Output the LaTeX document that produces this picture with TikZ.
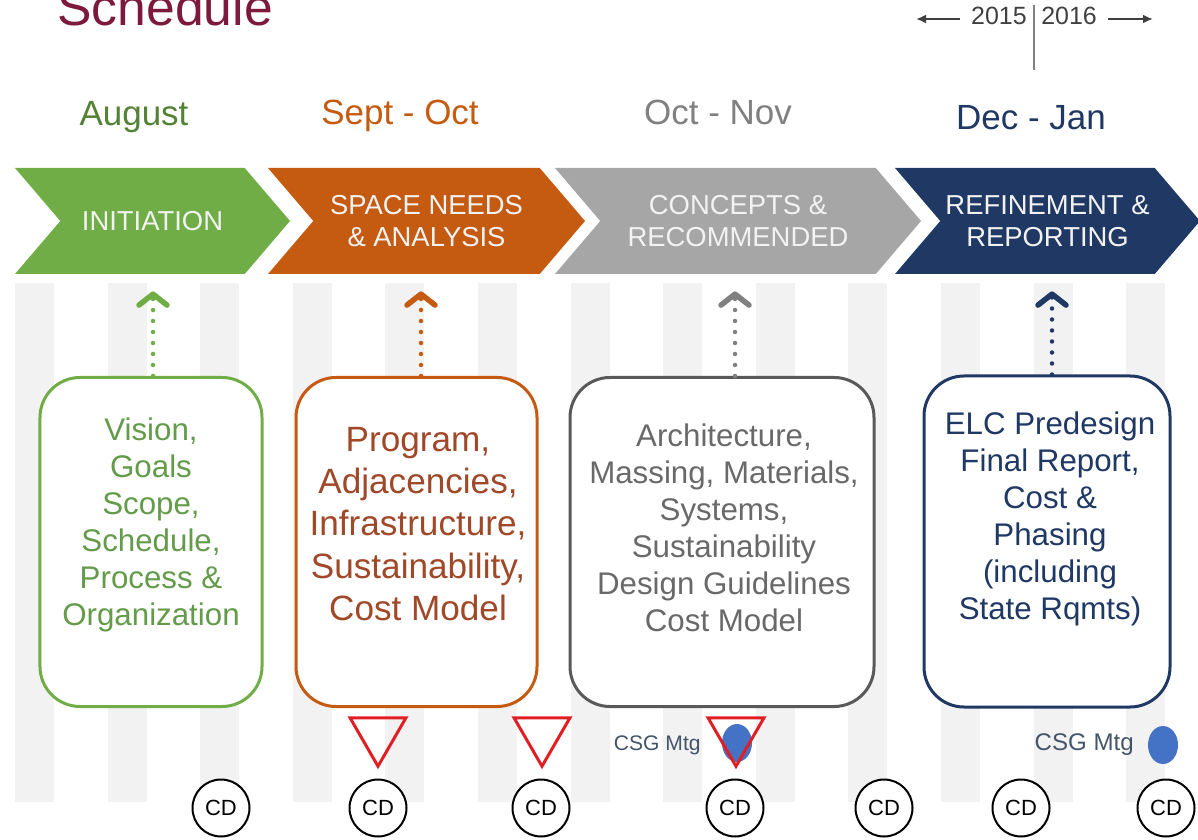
\documentclass[tikz,border=0pt]{standalone}
\usepackage{fontspec}
\setmainfont{Liberation Sans}
\usepackage{tikz}
\usetikzlibrary{arrows.meta, positioning, shapes.geometric, shapes.symbols}

\definecolor{titlered}{RGB}{125,25,60}
\definecolor{stripegray}{RGB}{242,242,242}
\definecolor{initgreen}{RGB}{112,173,71}
\definecolor{initdark}{RGB}{84,130,53}
\definecolor{inittext}{RGB}{100,155,75}
\definecolor{spaceorange}{RGB}{197,90,17}
\definecolor{spacetext}{RGB}{160,72,40}
\definecolor{conceptgray}{RGB}{166,166,166}
\definecolor{conceptdark}{RGB}{128,128,128}
\definecolor{conceptline}{RGB}{89,89,89}
\definecolor{concepttext}{RGB}{105,105,105}
\definecolor{refinenavy}{RGB}{31,56,100}
\definecolor{trired}{RGB}{225,30,35}
\definecolor{dotblue}{RGB}{68,114,196}
\definecolor{csgtext}{RGB}{68,84,106}
\definecolor{yeartext}{RGB}{64,64,64}

\begin{document}
\begin{tikzpicture}[x=0.2mm, y=-0.2mm]
    % Define styles
    \tikzstyle{stripe} = [fill=stripegray]
    \tikzstyle{month} = [anchor=base, inner sep=0pt, font=\fontsize{19.9}{24}\selectfont]
    \tikzstyle{chevron} = [signal, signal from=west, signal to=east, signal pointer angle=99, inner sep=0pt, minimum height=21.2mm, text=white!95!black, align=center, font=\fontsize{15.6}{18.2}\selectfont]
    \tikzstyle{phasebox} = [rectangle, rounded corners=8mm, line width=0.6mm, fill=white, minimum height=65.8mm]
    \tikzstyle{boxtext} = [align=center, inner sep=0pt, font=\fontsize{17.8}{21}\selectfont]
    \tikzstyle{uparrow} = [line width=0.9mm, line cap=round, dash pattern=on 0pt off 2.2mm, -{Straight Barb[width=5.6mm, length=2.2mm, line width=1.1mm, round]}, shorten >=3.4mm]
    \tikzstyle{review} = [regular polygon, regular polygon sides=3, shape border rotate=180, draw=trired, line width=0.6mm, minimum size=12.9mm, inner sep=0pt]
    \tikzstyle{csgdot} = [ellipse, fill=dotblue, minimum width=6mm, minimum height=7.6mm, inner sep=0pt]
    \tikzstyle{csglabel} = [anchor=east, inner sep=0pt, text=csgtext, font=\fontsize{13.7}{16}\selectfont]
    \tikzstyle{cd} = [circle, draw, line width=0.4mm, fill=white, minimum size=11.4mm, inner sep=0pt, font=\fontsize{12.5}{15}\selectfont]
    \tikzstyle{year} = [inner ysep=0pt, inner xsep=2.2mm, text=yeartext, font=\fontsize{14.2}{17}\selectfont]
    \tikzstyle{yeararrow} = [draw=yeartext, line width=0.4mm, -{Latex[length=2mm, width=1.8mm]}]

    \useasboundingbox (0,0) rectangle (1198,840);

    % Background columns
    \fill[stripe] (15,283) rectangle ++(39,519);
    \fill[stripe] (108,283) rectangle ++(39,519);
    \fill[stripe] (200,283) rectangle ++(39,519);
    \fill[stripe] (293,283) rectangle ++(39,519);
    \fill[stripe] (385,283) rectangle ++(39,519);
    \fill[stripe] (478,283) rectangle ++(39,519);
    \fill[stripe] (571,283) rectangle ++(39,519);
    \fill[stripe] (663,283) rectangle ++(39,519);
    \fill[stripe] (756,283) rectangle ++(39,519);
    \fill[stripe] (848,283) rectangle ++(39,519);
    \fill[stripe] (941,283) rectangle ++(39,519);
    \fill[stripe] (1034,283) rectangle ++(39,519);
    \fill[stripe] (1126,283) rectangle ++(39,519);

    % Title
    \node[anchor=base west, inner sep=0pt, text=titlered, font=\fontsize{29.4}{35}\selectfont] (title) at (57,26) {Schedule};

    % Year change marker
    \node[year, anchor=base east] (y2015) at (1038,25) {2015};
    \node[year, anchor=base west] (y2016) at (1030,25) {2016};
    \coordinate (pastend) at (916,19);
    \coordinate (futureend) at (1153,19);
    \coordinate (divtop) at (1034,5);
    \coordinate (divbottom) at (1034,70);
    \draw[yeararrow] (y2015.west |- pastend) -- (pastend);
    \draw[yeararrow] (y2016.east |- futureend) -- (futureend);
    \draw[conceptdark, line width=0.4mm] (divtop) -- (divbottom);

    % Month labels
    \node[month, text=initdark] (aug) at (134,126) {August};
    \node[month, text=spaceorange] (sepoct) at (400,125) {Sept - Oct};
    \node[month, text=conceptdark] (octnov) at (718,125) {Oct - Nov};
    \node[month, text=refinenavy] (decjan) at (1031,130) {Dec - Jan};

    % Phase chevrons
    \node[chevron, fill=initgreen, minimum width=55mm] (initchev) at (152.5,221) {INITIATION};
    \node[chevron, fill=spaceorange, minimum width=63.4mm] (spacechev) at (426.5,221) {SPACE NEEDS\\\& ANALYSIS};
    \node[chevron, fill=conceptgray, minimum width=73.2mm] (conceptchev) at (738,221) {CONCEPTS \&\\RECOMMENDED};
    \node[chevron, fill=refinenavy, minimum width=61mm] (refinechev) at (1047.5,221) {REFINEMENT \&\\REPORTING};

    % Deliverable boxes
    \node[phasebox, draw=initgreen, minimum width=44.4mm] (initbox) at (151,542) {};
    \node[boxtext, text=inittext] (initlist) at (151,525) {Vision,\\Goals\\Scope,\\Schedule,\\Process \&\\Organization};

    \node[phasebox, draw=spaceorange, minimum width=48.2mm] (spacebox) at (416.5,542) {};
    \node[boxtext, text=spacetext, font=\fontsize{20}{24}\selectfont] (spacelist) at (418,524) {Program,\\Adjacencies,\\Infrastructure,\\Sustainability,\\Cost Model};

    \node[phasebox, draw=conceptline, minimum width=60.8mm] (conceptbox) at (722,542) {};
    \node[boxtext, text=concepttext] (conceptlist) at (724,528) {Architecture,\\Massing, Materials,\\Systems,\\Sustainability\\Design Guidelines\\Cost Model};

    \node[phasebox, draw=refinenavy, minimum width=49.2mm, minimum height=66.2mm] (refinebox) at (1047,541.5) {};
    \node[boxtext, text=refinenavy] (refinelist) at (1050,519) {ELC Predesign\\Final Report,\\Cost \&\\Phasing\\(including\\State Rqmts)};

    % Dotted arrows up to the phases
    \draw[uparrow, initgreen] ([xshift=0.4mm]initbox.north) -- ([xshift=0.4mm]initbox.north |- initchev.south);
    \draw[uparrow, spaceorange] ([xshift=0.9mm]spacebox.north) -- ([xshift=0.9mm]spacebox.north |- spacechev.south);
    \draw[uparrow, conceptdark] ([xshift=2.6mm]conceptbox.north) -- ([xshift=2.6mm]conceptbox.north |- conceptchev.south);
    \draw[uparrow, refinenavy] ([xshift=1mm]refinebox.north) -- ([xshift=1mm]refinebox.north |- refinechev.south);

    % CSG meetings
    \node[csgdot] (csg1) at (737,743) {};
    \node[csglabel, font=\fontsize{12}{14}\selectfont] (csglabel1) at (701,745) {CSG Mtg};
    \node[csgdot] (csg2) at (1163,745) {};
    \node[csglabel] (csglabel2) at (1134,745) {CSG Mtg};

    % Review markers
    \node[review] (rev1) at (378,734) {};
    \node[review] (rev2) at (542,734) {};
    \node[review] (rev3) at (736,734) {};

    % CD check-ins
    \node[cd] (cd1) at (221,808) {CD};
    \node[cd] (cd2) at (378,808) {CD};
    \node[cd] (cd3) at (541,808) {CD};
    \node[cd] (cd4) at (735,808) {CD};
    \node[cd] (cd5) at (884,808) {CD};
    \node[cd] (cd6) at (1021,808) {CD};
    \node[cd] (cd7) at (1166,808) {CD};
\end{tikzpicture}
\end{document}
